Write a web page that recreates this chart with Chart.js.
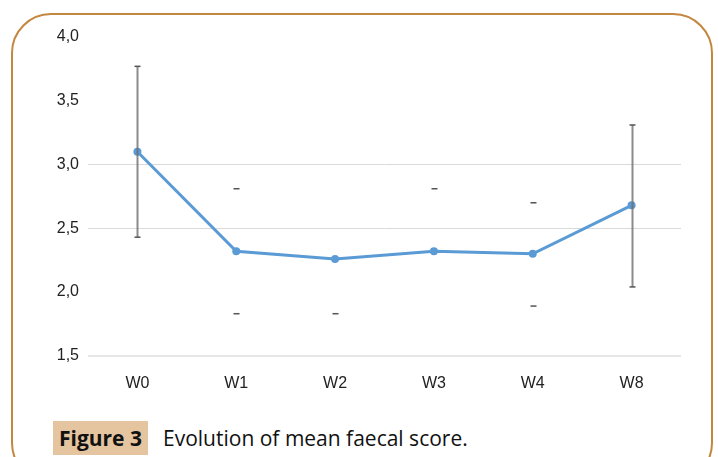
<!DOCTYPE html>
<html>
<head>
<meta charset="utf-8">
<script src="https://cdn.jsdelivr.net/npm/chart.js@4"></script>
<style>
  html, body { margin: 0; padding: 0; background: #ffffff; }
  body { width: 718px; height: 457px; position: relative; overflow: hidden; }
  .frame {
    position: absolute; left: 11px; top: 13px; width: 702px; height: 470px;
    border: 2px solid #c3873f; border-radius: 40px; box-sizing: border-box;
  }
  .chartBox { position: absolute; left: 0; top: 0; width: 718px; height: 421px; }
  .caption {
    position: absolute; left: 53px; top: 421px; height: 34px; white-space: nowrap;
    font-family: "Open Sans", sans-serif; font-size: 21px; line-height: 34px; color: #111;
  }
  .caption .tag {
    display: inline-block; width: 95px; text-align: center; background: #e5c4a0;
    font-weight: bold; margin-right: 15px;
  }
</style>
</head>
<body>
<div class="frame"></div>
<div class="chartBox"><canvas id="scoreChart"></canvas></div>
<div class="caption"><span class="tag">Figure 3</span>Evolution of mean faecal score.</div>

<script>
// Mean faecal score per week
const weeks = ['W0', 'W1', 'W2', 'W3', 'W4', 'W8'];
const meanScore = [3.10, 2.32, 2.26, 2.32, 2.30, 2.68];

// error bar ends (null = cap not visible in the source figure)
const errUpper = [3.77, 2.81, null, 2.81, 2.70, 3.31];
const errLower = [2.43, 1.83, 1.83, null, 1.89, 2.04];

const yTicks = [1.5, 2.0, 2.5, 3.0, 3.5, 4.0];

// only W0 and W8 show the vertical stem, the rest only show the caps
const errorBars = {
  id: 'errorBars',
  afterDatasetsDraw(chart) {
    const ctx = chart.ctx;
    const x = chart.scales.x;
    const y = chart.scales.y;
    ctx.save();
    weeks.forEach((w, i) => {
      const px = Math.round(x.getPixelForValue(i)) + 0.5;
      const hi = errUpper[i];
      const lo = errLower[i];
      if (i === 0 || i === weeks.length - 1) {
        ctx.strokeStyle = 'rgba(110,110,110,0.8)';
        ctx.lineWidth = 2;
        ctx.beginPath();
        ctx.moveTo(px, y.getPixelForValue(hi));
        ctx.lineTo(px, y.getPixelForValue(lo));
        ctx.stroke();
      }
      ctx.strokeStyle = '#555555';
      ctx.lineWidth = 1.5;
      [hi, lo].forEach(v => {
        if (v === null) return;
        const py = y.getPixelForValue(v);
        ctx.beginPath();
        ctx.moveTo(px - 3, py);
        ctx.lineTo(px + 3, py);
        ctx.stroke();
      });
    });
    ctx.restore();
  }
};

const ctx = document.getElementById('scoreChart').getContext('2d');

new Chart(ctx, {
  type: 'line',
  data: {
    labels: weeks,
    datasets: [{
      data: meanScore,
      borderColor: '#5b9bd5',
      backgroundColor: '#5b9bd5',
      borderWidth: 3,
      pointRadius: 4,
      pointBorderWidth: 0,
      tension: 0
    }]
  },
  options: {
    responsive: true,
    maintainAspectRatio: false,
    animation: false,
    layout: { padding: { top: 37, right: 37, bottom: 10, left: 0 } },
    plugins: {
      legend: { display: false },
      tooltip: { enabled: false }
    },
    scales: {
      x: {
        offset: true,
        grid: { display: false, drawTicks: false },
        border: { display: false },
        ticks: { color: '#222222', padding: 18, font: { family: 'Liberation Sans', size: 16 } }
      },
      y: {
        min: 1.5,
        max: 4.0,
        afterFit(scale) { scale.width = 88; },
        afterBuildTicks(scale) { scale.ticks = yTicks.map(v => ({ value: v })); },
        border: { display: false },
        grid: {
          drawTicks: false,
          // the figure only shows gridlines at 2,5 and 3,0 plus the base line
          color: c => {
            const v = c.tick ? c.tick.value : null;
            if (v === 1.5) return '#e6e6e6';
            if (v === 2.5 || v === 3.0) return '#d9d9d9';
            return 'rgba(0,0,0,0)';
          },
          lineWidth: c => (c.tick && c.tick.value === 1.5 ? 2 : 1)
        },
        ticks: {
          color: '#222222',
          padding: 9,
          font: { family: 'Liberation Sans', size: 16 },
          callback: v => v.toFixed(1).replace('.', ',')
        }
      }
    }
  },
  plugins: [errorBars]
});
</script>
</body>
</html>
